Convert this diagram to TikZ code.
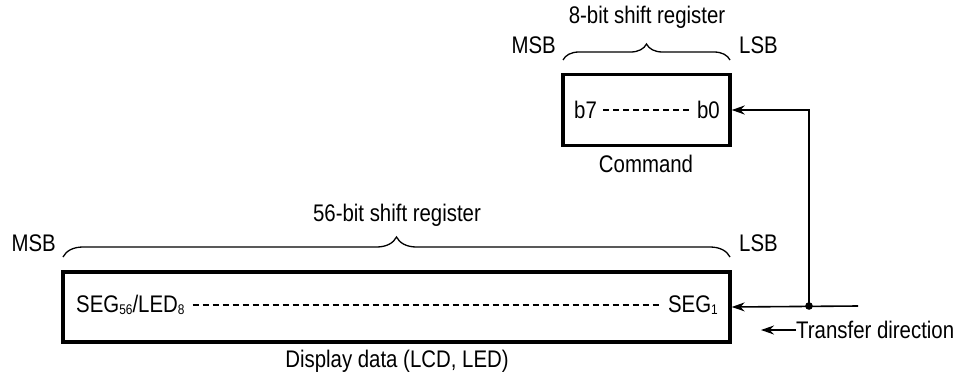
\documentclass[tikz,border=0pt]{standalone}
\usepackage{fontspec}
\setmainfont[FakeStretch=0.85]{Liberation Sans}
\usetikzlibrary{arrows.meta,decorations.pathreplacing}
\begin{document}
\begin{tikzpicture}[x=1pt,y=-1pt,
  every node/.style={font=\fontsize{24}{28}\selectfont, inner sep=0pt},
  regbox/.style={draw, line width=3.4pt},
  conn/.style={line width=1.6pt},
  arr/.style={conn, -{Stealth[length=13pt,width=9pt]}},
  dashline/.style={line width=1.1pt, dash pattern=on 6pt off 4pt},
  brc/.style={line width=1.3pt, decorate, decoration={brace, amplitude=#1}}]
\useasboundingbox (0,0) rectangle (966,378);
\newcommand{\smallsub}[1]{\raisebox{-1.5pt}{\fontsize{14}{14}\selectfont #1}}

% command register
\node[regbox, minimum width=167pt, minimum height=71pt] (cmd) at (646.5,110) {};
\node[anchor=west] (b7) at (574,110) {b7};
\node[anchor=east] (b0) at (720,110) {b0};
\draw[dashline] ([xshift=6pt]b7.east) -- ([xshift=-5pt]b0.west);
\draw[brc=16pt] (563,60) -- (730,60);
\node (t8) at (647,17) {8-bit shift register};
\node[anchor=east] (msb1) at (556,45) {MSB};
\node[anchor=west] (lsb1) at (739,45) {LSB};
\node (cmdl) at (646,164) {Command};

% display register
\node[regbox, minimum width=667pt, minimum height=70pt] (disp) at (396.5,307) {};
\node[anchor=west] (seg56) at (76,305) {SEG\smallsub{56}/LED\smallsub{8}};
\node[anchor=east] (seg1) at (718,305) {SEG\smallsub{1}};
\draw[dashline] ([xshift=8pt]seg56.east) -- ([xshift=-6pt]seg1.west);
\draw[brc=20pt] (63,257) -- (730,257);
\node (t56) at (397,215) {56-bit shift register};
\node[anchor=east] (msb2) at (56,243) {MSB};
\node[anchor=west] (lsb2) at (739,243) {LSB};
\node (dl) at (397,361) {Display data (LCD, LED)};

% input
\coordinate (in) at (858,306);
\coordinate (dot) at (809,306);
\draw[arr] (in) -- (disp.east);
\draw[arr] (dot) |- (cmd.east);
\fill (dot) circle (3.8pt);

% transfer direction
\node[anchor=west] (td) at (796,330) {Transfer direction};
\coordinate (tdl) at (761,330);
\draw[arr] (td.west) -- (tdl);
\end{tikzpicture}
\end{document}
